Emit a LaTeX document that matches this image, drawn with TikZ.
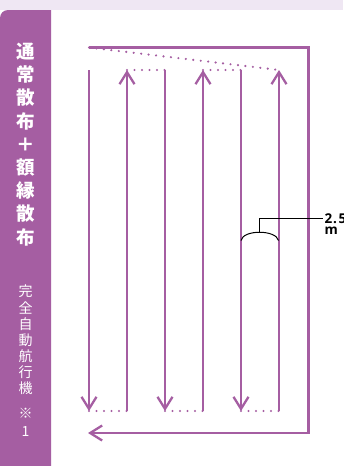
\documentclass[tikz,border=0pt]{standalone}
\usepackage{fontspec}
\newfontfamily\cjk{Noto Sans CJK JP}
\newfontfamily\labfont{Open Sans}
\usetikzlibrary{arrows.meta}
\definecolor{pp}{HTML}{A55EA2}
\definecolor{band}{HTML}{EFE7F3}
\begin{document}
\begin{tikzpicture}[x=1pt,y=-1pt,
  track/.style={draw=pp,line width=2.3pt},
  tip/.style={-{Straight Barb[length=12pt,width=15pt]}},
  dots/.style={draw=pp,line width=2.4pt,line cap=round,dash pattern=on 0pt off 7.5pt},
  leader/.style={draw=black,line width=1pt},
  bigch/.style={text=white,font=\cjk\bfseries\fontsize{18.5}{18.5}\selectfont,inner sep=0pt},
  smallch/.style={text=white,font=\cjk\fontsize{14}{14}\selectfont,inner sep=0pt},
  lab/.style={text=black,font=\labfont\bfseries\fontsize{13.5}{13.5}\selectfont,inner sep=0pt,text depth=0pt}]
\useasboundingbox (0,0) rectangle (343,466);
\fill[white] (0,0) rectangle (343,466);
\fill[band] (0,0) rectangle (343,10);
\fill[pp] (0,466) -- (0,18) arc[start angle=180,end angle=270,radius=8] -- (51,10) -- (51,466) -- cycle;
% big vertical title
\foreach \c [count=\i from 0] in {通,常,散,布,＋,額,縁,散,布}
  \node[bigch] (t\i) at (25.5,{51.5+23.2*\i}) {\c};
\foreach \c [count=\i from 0] in {完,全,自,動,航,行,機}
  \node[smallch] (s\i) at (25.5,{291.5+16.1*\i}) {\c};
\node[smallch] (note) at (25.5,413) {※};
\node[smallch] (one) at (25.5,432) {1};
% coordinates
\foreach \n/\x in {a/89,b/127,c/165,d/203,e/241,f/279} {
  \coordinate (\n top) at (\x,70);
  \coordinate (\n bot) at (\x,411);
}
\coordinate (start) at (89,47.5);
\coordinate (tr) at (308.5,47.5);
\coordinate (br) at (308.5,433);
\coordinate (end) at (88,433);
% outer return path
\draw[track,tip] (start) -- (tr) -- (br) -- (end);
% passes
\draw[track,tip] (atop) -- (abot);
\draw[track,tip] (bbot) -- (btop);
\draw[track,tip] (ctop) -- (cbot);
\draw[track,tip] (dbot) -- (dtop);
\draw[track,tip] (etop) -- (ebot);
\draw[track,tip] (fbot) -- (ftop);
% dotted turns
\draw[dots] (start) -- (ftop);
\draw[dots] (btop) -- (ctop);
\draw[dots] (dtop) -- (etop);
\draw[dots] (abot) -- (bbot);
\draw[dots] (cbot) -- (dbot);
\draw[dots] (ebot) -- (fbot);
% width brace and label
\coordinate (arcL) at (241,240.5);
\coordinate (arcM) at (259.5,232);
\coordinate (arcR) at (278.5,240.5);
\coordinate (knee) at (259.5,218);
\coordinate (lend) at (323,218);
\draw[leader] (arcL) .. controls (243,229.5) and (276,229.5) .. (arcR);
\draw[leader] (arcM) -- (knee) -- (lend);
\node[lab,anchor=base west,text height=9.5pt] (w1) at (324.5,223.5) {2\kern0.8pt.\kern1.5pt5};
\node[lab,anchor=base west,text height=7pt] (w2) at (324.5,234) {m};
\end{tikzpicture}
\end{document}
